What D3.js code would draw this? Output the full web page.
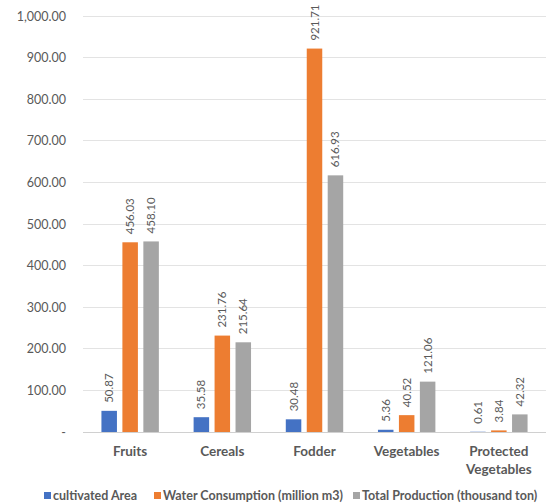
<!DOCTYPE html>
<html>
<head>
<meta charset="utf-8">
<script src="https://cdn.jsdelivr.net/npm/d3@7"></script>
<style>
  html, body { margin: 0; padding: 0; background: #fff; }
  svg { display: block; font-family: Lato, "Open Sans", sans-serif; }
</style>
</head>
<body>
<svg id="chart" width="546" height="504"></svg>
<script>
const categories = ["Fruits", "Cereals", "Fodder", "Vegetables", "Protected Vegetables"];
const seriesNames = ["cultivated Area", "Water Consumption (million m3)", "Total Production (thousand ton)"];
const cultivatedArea = [50.87, 35.58, 30.48, 5.36, 0.61];
const waterConsumption = [456.03, 231.76, 921.71, 40.52, 3.84];
const totalProduction = [458.10, 215.64, 616.93, 121.06, 42.32];
const yTicks = [0, 100, 200, 300, 400, 500, 600, 700, 800, 900, 1000];
const colors = ["#4472C4", "#ED7D31", "#A5A5A5"];

const series = [cultivatedArea, waterConsumption, totalProduction];
const svg = d3.select("#chart");
const margin = { left: 83, right: 0, top: 16, bottom: 72 };
const W = 546, H = 504;

const x0 = d3.scaleBand().domain(categories).range([margin.left, W - margin.right]).paddingInner(0.377).paddingOuter(0.2);
const x1 = d3.scaleBand().domain(d3.range(series.length)).range([0, x0.bandwidth()]).paddingInner(0.26);
const y = d3.scaleLinear().domain([0, 1000]).range([H - margin.bottom, margin.top]);

const fmt = d3.format(",.2f");

// gridlines
svg.append("g").selectAll("line").data(yTicks).join("line")
  .attr("x1", margin.left).attr("x2", W - margin.right)
  .attr("y1", d => y(d)).attr("y2", d => y(d))
  .attr("stroke", d => d === 0 ? "#d0d0d0" : "#e3e3e3").attr("stroke-width", 1)
  .attr("shape-rendering", "crispEdges");

// y axis labels
const yAxis = d3.axisLeft(y).tickValues(yTicks).tickSize(0).tickPadding(17)
  .tickFormat(d => d === 0 ? "-" : fmt(d));
const ya = svg.append("g").attr("transform", `translate(${margin.left},0)`).call(yAxis);
ya.select(".domain").remove();
ya.selectAll("text").attr("fill", "#595959").attr("font-size", 12.5).attr("font-family", "Lato, sans-serif");

// bars with rotated value labels
const groups = svg.append("g").selectAll("g").data(categories).join("g")
  .attr("transform", d => `translate(${x0(d)},0)`);

groups.each(function (cat, ci) {
  const g = d3.select(this);
  series.forEach((s, si) => {
    const v = s[ci];
    g.append("rect")
      .attr("x", x1(si)).attr("width", x1.bandwidth())
      .attr("y", y(v)).attr("height", y(0) - y(v))
      .attr("fill", colors[si]);
    const cx = x1(si) + x1.bandwidth() / 2;
    g.append("text")
      .attr("transform", `translate(${cx + 4},${y(v) - 8}) rotate(-90)`)
      .attr("text-anchor", "start")
      .attr("fill", "#595959").attr("font-size", 11.5)
      .text(fmt(v));
  });
});

// category labels
const catG = svg.append("g");
categories.forEach(c => {
  const words = c.split(" ");
  const t = catG.append("text")
    .attr("x", x0(c) + x0.bandwidth() / 2).attr("y", 456)
    .attr("text-anchor", "middle").attr("fill", "#595959")
    .attr("font-size", 13.5).attr("font-weight", "bold");
  words.forEach((w, i) => {
    t.append("tspan").attr("x", x0(c) + x0.bandwidth() / 2).attr("dy", i === 0 ? 0 : 18).text(w);
  });
});

// legend
const legendX = [44, 154, 353];
const leg = svg.append("g");
seriesNames.forEach((n, i) => {
  leg.append("rect").attr("x", legendX[i]).attr("y", 492).attr("width", 7).attr("height", 7).attr("fill", colors[i]);
  leg.append("text").attr("x", legendX[i] + 9).attr("y", 500)
    .attr("fill", "#595959").attr("font-size", 12.5).attr("font-weight", "bold").text(n);
});
</script>
</body>
</html>
